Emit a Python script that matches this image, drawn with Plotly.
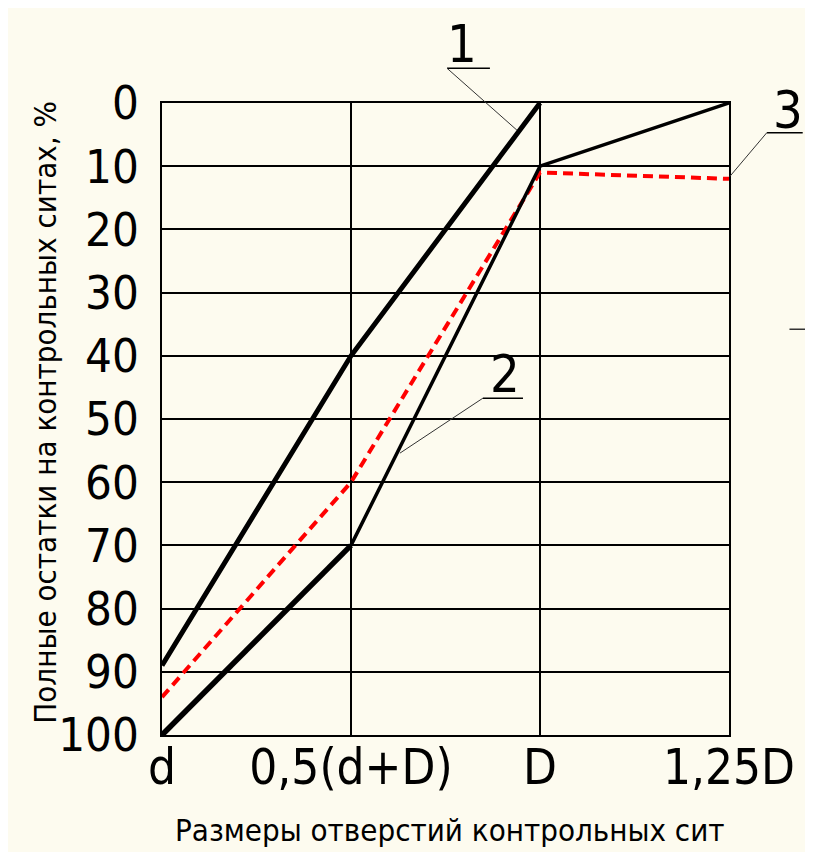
import plotly.graph_objects as go

# ---- data ----
x_labels = ["d", "0,5(d+D)", "D", "1,25D"]
x_pos = [0, 1, 2, 3]
curve1_x = [0, 1, 2]
curve1_y = [89, 40, 0]
curve2_x = [0, 1, 2, 3]
curve2_y = [100, 70, 10, 0]
curve3_x = [0, 1, 2, 3]
curve3_y = [94, 60, 11, 12]
y_ticks = [0, 10, 20, 30, 40, 50, 60, 70, 80, 90, 100]
x_title = "Размеры отверстий контрольных сит"
y_title = "Полные остатки на контрольных ситах, %"

BG = "#FDFBEF"
FONT = "DejaVu Sans Condensed, Liberation Sans Narrow, sans-serif"

fig = go.Figure()

# curve 3 (red dashed)
fig.add_trace(go.Scatter(x=curve3_x, y=curve3_y, mode="lines",
                         line=dict(color="#FF0000", width=4, dash="10px,6px"),
                         cliponaxis=False, hoverinfo="skip"))
# curve 1
fig.add_trace(go.Scatter(x=curve1_x, y=curve1_y, mode="lines",
                         line=dict(color="black", width=5),
                         cliponaxis=False, hoverinfo="skip"))
# curve 2 : thick first segment, thinner remainder
fig.add_trace(go.Scatter(x=curve2_x[:2], y=curve2_y[:2], mode="lines",
                         line=dict(color="black", width=5.5),
                         cliponaxis=False, hoverinfo="skip"))
fig.add_trace(go.Scatter(x=curve2_x[1:], y=curve2_y[1:], mode="lines",
                         line=dict(color="black", width=3.5),
                         cliponaxis=False, hoverinfo="skip"))

X_MAX = 3.0
Y_MAX = 100.0


def px(x):
    return x / X_MAX


def py(y):
    return 1 - y / Y_MAX


# leader annotations in data units: (label, text x, text y, underline x0, x1, y, leader end x, y)
leaders = [
    ("1", 1.587, -9.3, 1.508, 1.735, -5.5, 1.878, 4.3),
    ("2", 1.815, 42.9, 1.698, 1.910, 46.7, 1.259, 55.4),
    ("3", 3.31, 1.1, 3.20, 3.39, 4.7, 3.005, 11.6),
]
shapes = []
annotations = []
for lab, tx, ty, ux0, ux1, uy, lx, ly in leaders:
    annotations.append(dict(x=px(tx), y=py(ty), xref="paper", yref="paper", text=lab,
                            showarrow=False, font=dict(family=FONT, size=52, color="black"),
                            xanchor="center", yanchor="middle"))
    shapes.append(dict(type="line", xref="paper", yref="paper",
                       x0=px(ux0), x1=px(ux1), y0=py(uy), y1=py(uy),
                       line=dict(color="black", width=1.5)))
    shapes.append(dict(type="line", xref="paper", yref="paper",
                       x0=px(ux0), y0=py(uy), x1=px(lx), y1=py(ly),
                       line=dict(color="#333333", width=1)))
# stray tick at right
shapes.append(dict(type="line", xref="paper", yref="paper", x0=px(3.32), x1=px(3.6),
                   y0=py(35.8), y1=py(35.8), line=dict(color="#333333", width=1.5)))

# axis titles as annotations
annotations.append(dict(text=x_title, xref="paper", yref="paper", x=0.508, y=-0.150,
                        showarrow=False, xanchor="center", yanchor="middle",
                        font=dict(family=FONT, size=31, color="black")))
annotations.append(dict(text=y_title, xref="paper", yref="paper", x=-0.207, y=0.511,
                        textangle=-90, showarrow=False, xanchor="center", yanchor="middle",
                        font=dict(family=FONT, size=31, color="black")))

fig.update_layout(
    width=813, height=852,
    margin=dict(l=154, r=92, t=95, b=125),
    paper_bgcolor=BG, plot_bgcolor=BG,
    showlegend=False,
    shapes=shapes, annotations=annotations,
    font=dict(family=FONT, color="black"),
    xaxis=dict(range=[0, X_MAX], tickvals=x_pos, ticktext=x_labels, automargin=False,
               tickfont=dict(family=FONT, size=49, color="black"),
               showgrid=True, gridcolor="black", gridwidth=1.5,
               showline=True, linecolor="black", linewidth=1.5, mirror=True,
               zeroline=False, ticks="", ticklabelstandoff=-12),
    yaxis=dict(range=[Y_MAX, 0], tickvals=y_ticks, automargin=False,
               tickfont=dict(family=FONT, size=47, color="black"),
               showgrid=True, gridcolor="black", gridwidth=1.5,
               showline=True, linecolor="black", linewidth=1.5, mirror=True,
               zeroline=False, ticks="", ticklabelstandoff=12),
)

fig.write_html("out.html")
